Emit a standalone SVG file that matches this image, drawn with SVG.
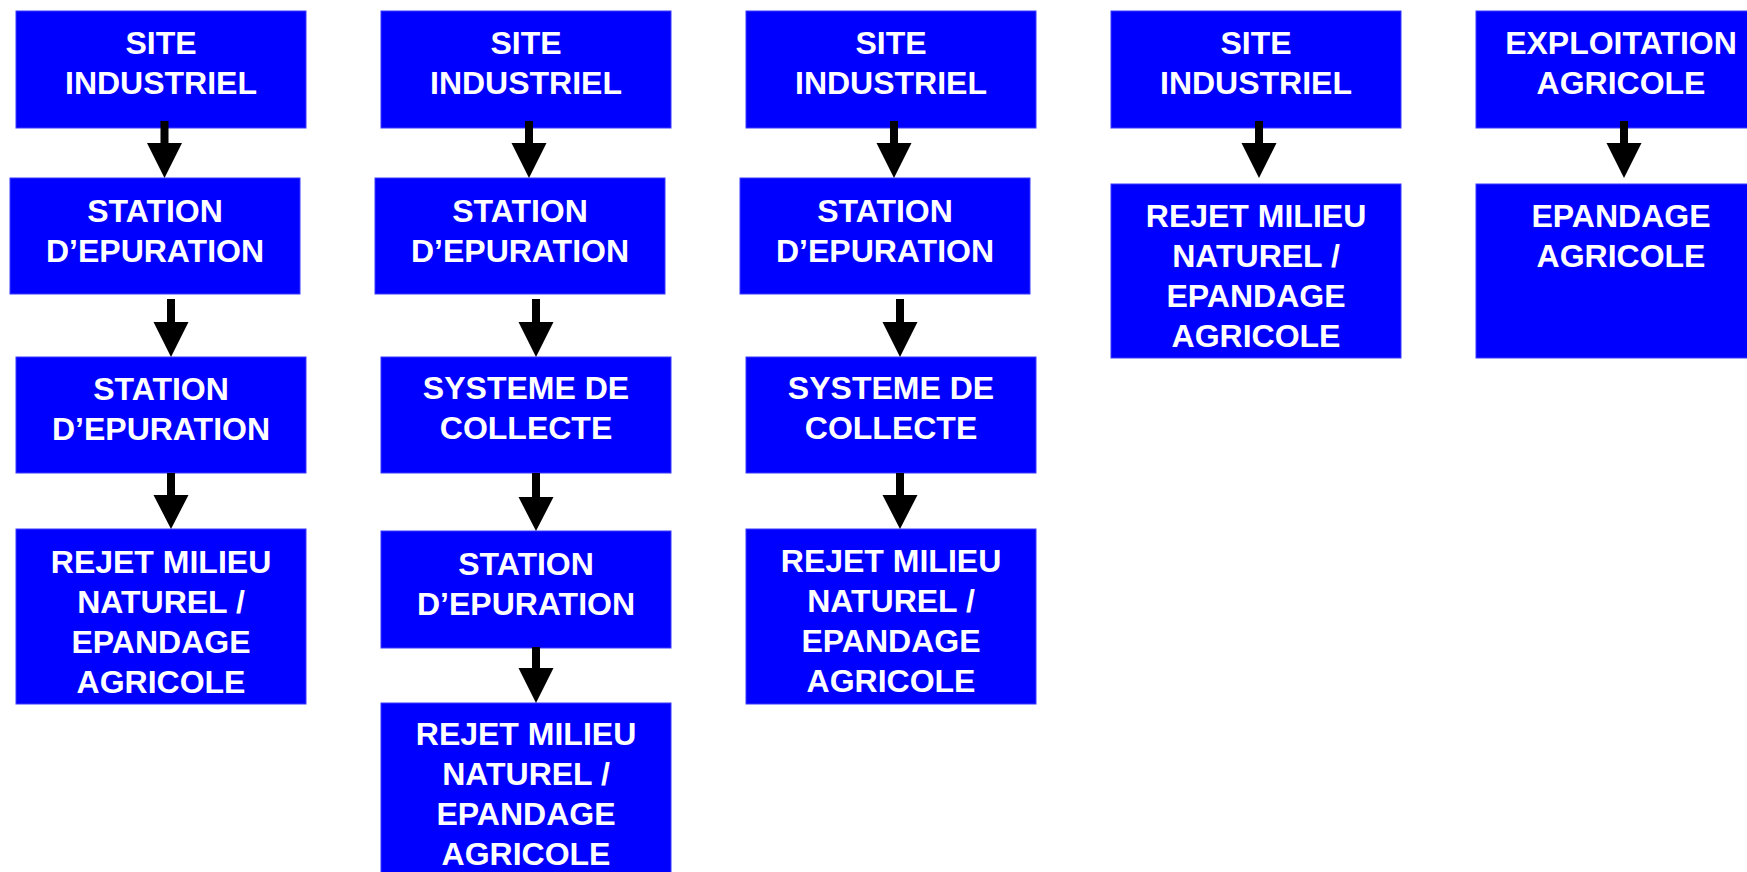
<svg xmlns="http://www.w3.org/2000/svg" width="1747" height="872" viewBox="0 0 1747 872">
<style>
.box{fill:#0000ff;stroke:#3a3aff;stroke-width:1}
.lbl{font-family:"Liberation Sans",Arial,sans-serif;font-weight:bold;font-size:32px;fill:#ffffff;text-anchor:middle}
.arr{fill:#000000}
</style>
<rect width="1747" height="872" fill="#ffffff"/>
<g id="c1-site"><rect class="box" x="16" y="11" width="290" height="117"/><text class="lbl" x="161" y="54">SITE</text><text class="lbl" x="161" y="94">INDUSTRIEL</text></g>
<g id="c1-station1"><rect class="box" x="10" y="178" width="290" height="116"/><text class="lbl" x="155" y="222">STATION</text><text class="lbl" x="155" y="262">D’EPURATION</text></g>
<g id="c1-station2"><rect class="box" x="16" y="357" width="290" height="116"/><text class="lbl" x="161" y="400">STATION</text><text class="lbl" x="161" y="440">D’EPURATION</text></g>
<g id="c1-rejet"><rect class="box" x="16" y="529" width="290" height="175"/><text class="lbl" x="161" y="573">REJET MILIEU</text><text class="lbl" x="161" y="613">NATUREL /</text><text class="lbl" x="161" y="653">EPANDAGE</text><text class="lbl" x="161" y="693">AGRICOLE</text></g>
<g id="c2-site"><rect class="box" x="381" y="11" width="290" height="117"/><text class="lbl" x="526" y="54">SITE</text><text class="lbl" x="526" y="94">INDUSTRIEL</text></g>
<g id="c2-station1"><rect class="box" x="375" y="178" width="290" height="116"/><text class="lbl" x="520" y="222">STATION</text><text class="lbl" x="520" y="262">D’EPURATION</text></g>
<g id="c2-collecte"><rect class="box" x="381" y="357" width="290" height="116"/><text class="lbl" x="526" y="399">SYSTEME DE</text><text class="lbl" x="526" y="439">COLLECTE</text></g>
<g id="c2-station2"><rect class="box" x="381" y="531" width="290" height="117"/><text class="lbl" x="526" y="575">STATION</text><text class="lbl" x="526" y="615">D’EPURATION</text></g>
<g id="c2-rejet"><rect class="box" x="381" y="703" width="290" height="180"/><text class="lbl" x="526" y="745">REJET MILIEU</text><text class="lbl" x="526" y="785">NATUREL /</text><text class="lbl" x="526" y="825">EPANDAGE</text><text class="lbl" x="526" y="865">AGRICOLE</text></g>
<g id="c3-site"><rect class="box" x="746" y="11" width="290" height="117"/><text class="lbl" x="891" y="54">SITE</text><text class="lbl" x="891" y="94">INDUSTRIEL</text></g>
<g id="c3-station"><rect class="box" x="740" y="178" width="290" height="116"/><text class="lbl" x="885" y="222">STATION</text><text class="lbl" x="885" y="262">D’EPURATION</text></g>
<g id="c3-collecte"><rect class="box" x="746" y="357" width="290" height="116"/><text class="lbl" x="891" y="399">SYSTEME DE</text><text class="lbl" x="891" y="439">COLLECTE</text></g>
<g id="c3-rejet"><rect class="box" x="746" y="529" width="290" height="175"/><text class="lbl" x="891" y="572">REJET MILIEU</text><text class="lbl" x="891" y="612">NATUREL /</text><text class="lbl" x="891" y="652">EPANDAGE</text><text class="lbl" x="891" y="692">AGRICOLE</text></g>
<g id="c4-site"><rect class="box" x="1111" y="11" width="290" height="117"/><text class="lbl" x="1256" y="54">SITE</text><text class="lbl" x="1256" y="94">INDUSTRIEL</text></g>
<g id="c4-rejet"><rect class="box" x="1111" y="184" width="290" height="174"/><text class="lbl" x="1256" y="227">REJET MILIEU</text><text class="lbl" x="1256" y="267">NATUREL /</text><text class="lbl" x="1256" y="307">EPANDAGE</text><text class="lbl" x="1256" y="347">AGRICOLE</text></g>
<g id="c5-exploitation"><rect class="box" x="1476" y="11" width="290" height="117"/><text class="lbl" x="1621" y="54">EXPLOITATION</text><text class="lbl" x="1621" y="94">AGRICOLE</text></g>
<g id="c5-epandage"><rect class="box" x="1476" y="184" width="290" height="174"/><text class="lbl" x="1621" y="227">EPANDAGE</text><text class="lbl" x="1621" y="267">AGRICOLE</text></g>
<g id="connectors">
<path class="arr" d="M160.5 121h8v22h13.5l-17.5 35l-17.5 -35h13.5z"/>
<path class="arr" d="M167 299h8v23h13.5l-17.5 35l-17.5 -35h13.5z"/>
<path class="arr" d="M167 473h8v22h13.5l-17.5 34l-17.5 -34h13.5z"/>
<path class="arr" d="M525 121h8v22h13.5l-17.5 35l-17.5 -35h13.5z"/>
<path class="arr" d="M532 299h8v23h13.5l-17.5 35l-17.5 -35h13.5z"/>
<path class="arr" d="M532 473h8v24h13.5l-17.5 34l-17.5 -34h13.5z"/>
<path class="arr" d="M532 647h8v21h13.5l-17.5 35l-17.5 -35h13.5z"/>
<path class="arr" d="M890 121h8v22h13.5l-17.5 35l-17.5 -35h13.5z"/>
<path class="arr" d="M896 299h8v23h13.5l-17.5 35l-17.5 -35h13.5z"/>
<path class="arr" d="M896 473h8v22h13.5l-17.5 34l-17.5 -34h13.5z"/>
<path class="arr" d="M1255 121h8v22h13.5l-17.5 35l-17.5 -35h13.5z"/>
<path class="arr" d="M1620 121h8v22h13.5l-17.5 35l-17.5 -35h13.5z"/>
</g>
</svg>
